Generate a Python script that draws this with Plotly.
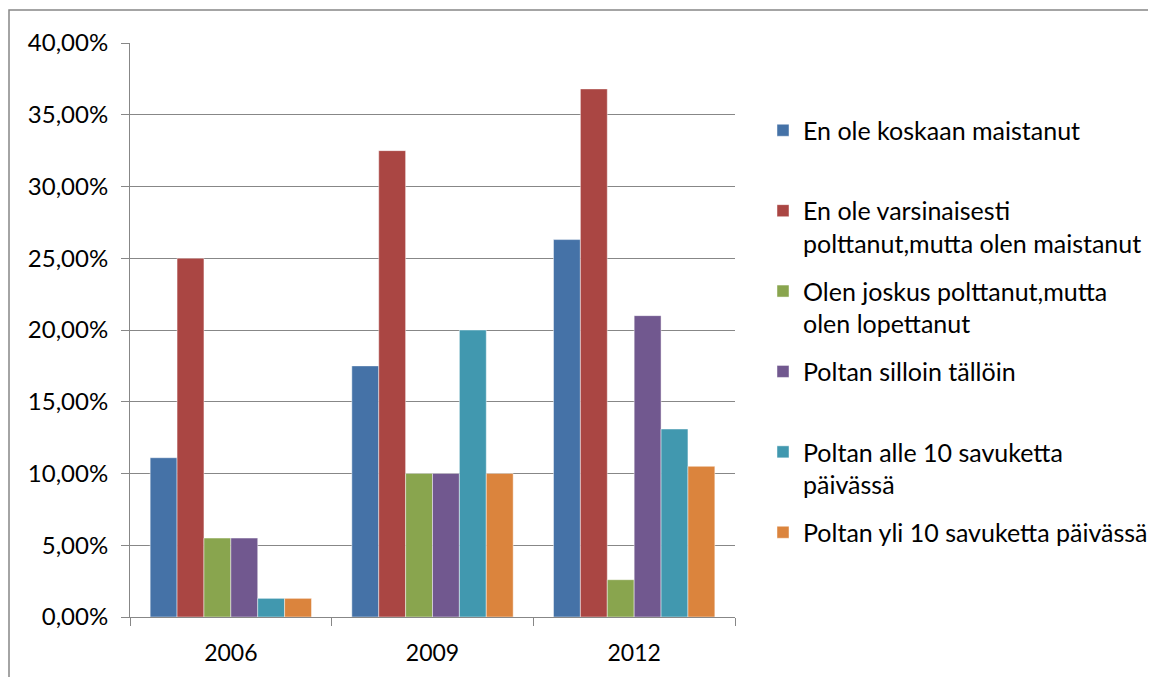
import plotly.graph_objects as go

years = ["2006", "2009", "2012"]
series_names = [
    "En ole koskaan maistanut",
    "En ole varsinaisesti<br>polttanut,mutta olen maistanut",
    "Olen joskus polttanut,mutta<br>olen lopettanut",
    "Poltan silloin tällöin",
    "Poltan alle 10 savuketta<br>päivässä",
    "Poltan yli 10 savuketta päivässä",
]
never_tasted = [0.111, 0.175, 0.263]
tasted_only = [0.250, 0.325, 0.368]
quit_smoking = [0.055, 0.100, 0.026]
occasionally = [0.055, 0.100, 0.210]
under_10_daily = [0.013, 0.200, 0.131]
over_10_daily = [0.013, 0.100, 0.105]
series_values = [never_tasted, tasted_only, quit_smoking, occasionally, under_10_daily, over_10_daily]
colors = ["#4572A7", "#AA4643", "#89A54E", "#71588F", "#4198AF", "#DB843D"]

FONT = "Lato"
GRID = "#878787"

fig = go.Figure()
for i, (name, vals, col) in enumerate(zip(series_names, series_values, colors)):
    label = name if "<br>" in name else name + "<br> "
    fig.add_trace(go.Bar(
        x=years, y=vals, name=label, legendgroup=f"g{i}",
        marker=dict(color=col, line=dict(color="rgba(255,255,255,0.45)", width=1)),
    ))

# page body has an 8px default margin; work in figure coordinates
OFF = 8
W, H = 1156 - OFF, 677 - OFF
L, R, T, B = 130 - OFF, 735 - OFF, 43 - OFF, 617.5 - OFF
pw, ph = R - L, B - T

fig.update_layout(
    width=W, height=H,
    margin=dict(l=L, r=W - R, t=T, b=H - B, pad=0, autoexpand=False),
    paper_bgcolor="white", plot_bgcolor="white",
    separators=", ",
    barmode="group", bargap=0.2, bargroupgap=0,
    font=dict(family=FONT, size=24, color="black"),
    showlegend=True,
    legend=dict(
        xref="container", yref="container",
        x=(763 - OFF) / W, y=1 - (107.5 - OFF) / H, xanchor="left", yanchor="top",
        valign="top", tracegroupgap=12.4, itemclick=False, maxheight=620,
        font=dict(family=FONT, size=25, color="black"),
        bgcolor="rgba(0,0,0,0)",
    ),
    xaxis=dict(
        type="category", tickson="boundaries", ticks="outside", ticklen=8,
        tickcolor=GRID, showline=True, linecolor=GRID, linewidth=1,
        showgrid=False, ticklabelstandoff=15, automargin=False,
        tickfont=dict(family=FONT, size=23, color="black"),
    ),
    yaxis=dict(
        range=[0, 0.4], dtick=0.05, tick0=0, tickformat=".2%",
        ticks="outside", ticklen=8, tickcolor=GRID,
        showline=True, linecolor=GRID, linewidth=1,
        showgrid=True, gridcolor=GRID, gridwidth=1,
        zeroline=False, ticklabelstandoff=8, automargin=False,
        tickfont=dict(family=FONT, size=24, color="black"),
    ),
    shapes=[dict(
        type="rect", xref="paper", yref="paper",
        x0=(9 - OFF - L) / pw, x1=(W + 20 - L) / pw,
        y0=(B - (H + 20)) / ph, y1=(B - (10 - OFF)) / ph,
        line=dict(color=GRID, width=1.5), fillcolor="rgba(0,0,0,0)", layer="below",
    )],
)

fig.write_html("out.html")
